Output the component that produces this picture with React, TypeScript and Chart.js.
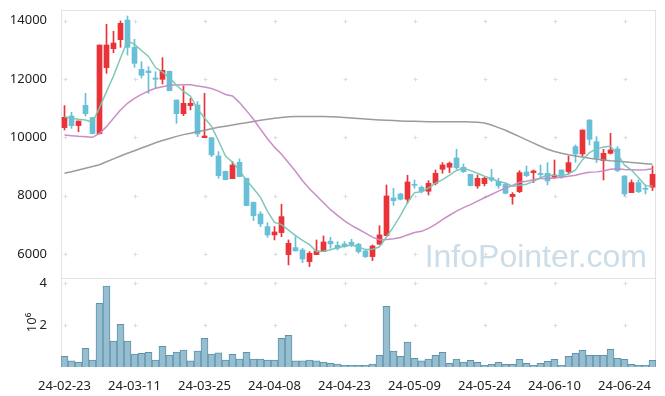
import React, { useEffect, useRef } from "react";
import { Chart, registerables } from "chart.js";

Chart.register(...registerables);

const DATES = [
  "24-02-23","24-02-26","24-02-27","24-02-28","24-02-29","24-03-04","24-03-05","24-03-06","24-03-07","24-03-08",
  "24-03-11","24-03-12","24-03-13","24-03-14","24-03-15","24-03-18","24-03-19","24-03-20","24-03-21","24-03-22",
  "24-03-25","24-03-26","24-03-27","24-03-28","24-03-29","24-04-01","24-04-02","24-04-03","24-04-04","24-04-05",
  "24-04-08","24-04-09","24-04-11","24-04-12","24-04-15","24-04-16","24-04-17","24-04-18","24-04-19","24-04-22",
  "24-04-23","24-04-24","24-04-25","24-04-26","24-04-29","24-04-30","24-05-02","24-05-03","24-05-07","24-05-08",
  "24-05-09","24-05-10","24-05-13","24-05-14","24-05-16","24-05-17","24-05-20","24-05-21","24-05-22","24-05-23",
  "24-05-24","24-05-27","24-05-28","24-05-29","24-05-30","24-05-31","24-06-03","24-06-04","24-06-05","24-06-07",
  "24-06-10","24-06-11","24-06-12","24-06-13","24-06-14","24-06-17","24-06-18","24-06-19","24-06-20","24-06-21",
  "24-06-24","24-06-25","24-06-26","24-06-27","24-06-28",
];

const OPEN = [
  10330,10729,10398,11094,10672,10124,12384,13035,13344,14017,
  13081,12327,12270,12030,11985,12259,11277,10809,11083,11106,
  9987,9987,9359,8834,8582,9142,8594,7772,7372,6939,
  6653,6733,5979,6219,6139,5740,5979,6082,6436,6299,
  6345,6402,6333,6105,5911,6333,6630,7920,8058,7875,
  8389,8286,8149,8423,8902,8971,9290,8971,8731,8332,
  8411,8617,8491,8389,7966,8137,8811,8788,8765,8765,
  8628,8879,8822,9679,9427,10592,9850,9199,9450,9599,
  8674,8103,8446,8252,8286,
];
const HIGH = [
  11083,10855,10558,11505,10680,13161,13869,13629,13983,14154,
  13355,12590,12419,12247,12727,12270,11277,11757,11334,11220,
  11505,9990,9507,8840,9165,9256,8600,7780,7452,7075,
  6939,7704,6482,6596,6197,6082,6482,6619,6573,6425,
  6425,6505,6368,6162,6311,6973,8366,8252,8080,8697,
  8537,8332,8514,8879,9131,9154,9587,9085,8731,8708,
  8628,8902,8594,8423,8103,8857,9016,8879,9051,9131,
  9222,8879,9359,9736,10249,10600,10021,9587,10135,9679,
  8680,8537,8537,8366,9016,
];
const LOW = [
  10250,10307,10192,10729,10110,10110,12190,12898,13081,12818,
  12396,12030,11505,11677,11825,11590,10478,10740,10935,10021,
  9987,9336,8594,8540,8580,8645,7650,7144,6939,6573,
  6482,6596,5626,6105,5705,5569,5979,6082,6197,6139,
  6230,6254,6025,5877,5774,6333,6630,7669,7852,7738,
  8252,8092,8023,8366,8765,8788,8902,8788,8330,8252,
  8332,8480,8252,8058,7704,8103,8651,8446,8651,8366,
  8594,8594,8742,9142,9359,9736,9131,8537,9427,8822,
  7989,8103,8103,8058,8172,
];
const CLOSE = [
  10683,10398,10558,10809,10124,13161,13161,13229,13903,13081,
  12533,12122,12213,11985,12293,11597,10809,11163,11163,10112,
  10044,9393,8685,8548,9051,8651,7658,7315,7030,6653,
  6756,7281,6368,6105,5831,6025,6105,6413,6345,6197,
  6254,6311,6082,5911,6276,6653,7989,7829,7875,8468,
  8354,8149,8423,8765,9051,9108,8959,8822,8343,8594,
  8594,8537,8343,8080,8046,8788,8685,8845,8720,8503,
  8708,8651,9131,9427,10249,9930,9279,9450,9564,8857,
  8058,8446,8137,8217,8731,
];

// volume in millions of shares
const VOLUME = [
  0.51,0.29,0.22,0.89,0.33,3.03,3.86,1.24,2.03,1.24,
  0.62,0.65,0.70,0.33,0.98,0.56,0.71,0.81,0.29,0.76,
  1.37,0.62,0.67,0.33,0.60,0.38,0.70,0.38,0.38,0.33,
  0.33,1.37,1.51,0.29,0.29,0.33,0.29,0.24,0.17,0.14,
  0.08,0.08,0.08,0.08,0.14,0.56,2.89,0.76,0.51,1.19,
  0.41,0.29,0.38,0.56,0.70,0.17,0.38,0.24,0.32,0.22,
  0.08,0.13,0.22,0.13,0.13,0.37,0.17,0.08,0.17,0.27,
  0.37,0.08,0.51,0.65,0.79,0.56,0.56,0.56,0.84,0.41,
  0.37,0.13,0.08,0.08,0.32,
];

const MA5 = [
  10706,10649,10615,10592,10514,11010,11563,12097,12716,13307,
  13181,12974,12770,12387,12229,12042,11779,11569,11405,10969,
  10658,10375,9879,9356,9144,8866,8519,8245,7941,7461,
  7082,7007,6818,6633,6468,6322,6087,6096,6144,6217,
  6263,6304,6238,6151,6167,6247,6582,6932,7324,7763,
  8103,8135,8254,8432,8548,8699,8861,8941,8857,8765,
  8662,8578,8482,8430,8320,8359,8388,8489,8617,8708,
  8692,8685,8743,8884,9233,9478,9603,9667,9694,9416,
  9042,8875,8612,8343,8318,
];
const MA20 = [
  10078,10055,10032,10021,9998,10135,10364,10649,10935,11163,
  11334,11471,11585,11677,11734,11779,11791,11802,11802,11755,
  11723,11673,11579,11466,11412,11187,10912,10616,10272,9951,
  9662,9420,9128,8834,8511,8232,7997,7759,7518,7323,
  7133,6979,6849,6717,6578,6478,6495,6521,6563,6654,
  6734,6777,6880,7013,7174,7328,7471,7591,7691,7811,
  7928,8039,8152,8261,8349,8456,8491,8541,8584,8585,
  8603,8628,8664,8697,8757,8798,8814,8845,8906,8919,
  8893,8888,8878,8885,8919,
];
const MA_LONG = [
  8765,8820,8880,8940,9000,9060,9160,9260,9360,9450,
  9540,9630,9720,9810,9890,9960,10030,10090,10140,10190,
  10240,10290,10340,10380,10420,10460,10500,10540,10580,10620,
  10650,10680,10700,10710,10710,10710,10710,10710,10705,10690,
  10675,10660,10640,10625,10610,10595,10585,10570,10560,10550,
  10545,10540,10535,10535,10535,10535,10535,10530,10525,10515,
  10490,10420,10330,10240,10130,10020,9910,9800,9690,9590,
  9510,9450,9400,9360,9320,9280,9250,9220,9195,9180,
  9160,9135,9115,9095,9075,
];

const PRICE_TICKS = [6000, 8000, 10000, 12000, 14000];
const VOLUME_TICKS = [2, 4];
const X_TICK_EVERY = 10;

const UP = "#ea3338";
const DOWN = "#67c0d8";
const FONT = "'Noto Sans', 'DejaVu Sans', sans-serif";

const decoPlugin = {
  id: "deco",
  beforeDatasetsDraw(chart: any) {
    const { ctx, scales } = chart;
    const x = scales.x, y = scales.y, yv = scales.yVol;
    ctx.save();
    ctx.font = "32px 'Liberation Sans', Arial, sans-serif";
    ctx.fillStyle = "rgba(150,188,210,0.5)";
    ctx.textAlign = "right";
    ctx.textBaseline = "alphabetic";
    ctx.fillText("InfoPointer.com", x.right - 9, y.bottom - 11);
    ctx.strokeStyle = "#dddddd";
    ctx.lineWidth = 1;
    const cross = (px: number, py: number) => {
      const cx = Math.round(px) + 0.5, cy = Math.round(py) + 0.5;
      ctx.beginPath();
      ctx.moveTo(cx - 2, cy); ctx.lineTo(cx + 2, cy);
      ctx.moveTo(cx, cy - 2); ctx.lineTo(cx, cy + 2);
      ctx.stroke();
    };
    for (let i = 0; i < DATES.length; i += X_TICK_EVERY) {
      const px = x.getPixelForValue(i);
      PRICE_TICKS.forEach((v) => cross(px, y.getPixelForValue(v)));
      VOLUME_TICKS.forEach((v) => cross(px, yv.getPixelForValue(v)));
    }
    ctx.strokeStyle = "#e2e2e2";
    ctx.strokeRect(Math.round(x.left) + 0.5, Math.round(y.top) + 0.5, Math.round(x.right - x.left) - 1, Math.round(y.bottom - y.top));
    ctx.strokeRect(Math.round(x.left) + 0.5, Math.round(yv.top) + 0.5, Math.round(x.right - x.left) - 1, Math.round(yv.bottom - yv.top) - 1);
    ctx.restore();
  },
};

const fitY = (s: any) => { s.width = 61; s.paddingTop = 0; s.paddingBottom = 0; };

export default function App() {
  const ref = useRef<HTMLCanvasElement | null>(null);
  useEffect(() => {
    document.body.style.margin = "0";
    const colors = OPEN.map((o, i) => (CLOSE[i] >= o ? UP : DOWN));
    const chart = new Chart(ref.current as HTMLCanvasElement, {
      data: {
        labels: DATES,
        datasets: [
          { type: "line", label: "MA5", data: MA5, borderColor: "rgba(120,196,180,0.95)", borderWidth: 1.5, pointRadius: 0, yAxisID: "y", order: 0 } as any,
          { type: "line", label: "MA20", data: MA20, borderColor: "rgba(200,135,195,0.95)", borderWidth: 1.5, pointRadius: 0, yAxisID: "y", order: 0 } as any,
          { type: "line", label: "MA long", data: MA_LONG, borderColor: "rgba(150,150,150,0.95)", borderWidth: 1.5, pointRadius: 0, yAxisID: "y", order: 0 } as any,
          { type: "bar", label: "body", data: OPEN.map((o, i) => [o, CLOSE[i]]), backgroundColor: colors, barThickness: 5, grouped: false, minBarLength: 1, yAxisID: "y", order: 2 } as any,
          { type: "bar", label: "wick", data: LOW.map((l, i) => [l, HIGH[i]]), backgroundColor: colors, barThickness: 1, grouped: false, yAxisID: "y", order: 3 } as any,
          { type: "bar", label: "volume", data: VOLUME, backgroundColor: "rgba(150,190,208,1)", borderColor: "#5e93ab", borderWidth: 1, categoryPercentage: 1, barPercentage: 1, grouped: false, yAxisID: "yVol", order: 4 } as any,
        ],
      },
      options: {
        animation: false,
        responsive: true,
        maintainAspectRatio: false,
        layout: { padding: { left: 0, right: 9, top: 10, bottom: 0 } },
        plugins: { legend: { display: false }, tooltip: { enabled: false } },
        scales: {
          x: {
            type: "category",
            offset: true,
            grid: { display: false },
            border: { display: false },
            ticks: {
              autoSkip: false,
              maxRotation: 0,
              padding: 3,
              color: "#222",
              font: { family: FONT, size: 13 },
              callback: (_v: any, i: number) => (i % X_TICK_EVERY === 0 ? DATES[i] : null),
            },
            afterFit: (s: any) => { s.height = 29; },
          },
          yVol: {
            type: "linear",
            position: "left",
            stack: "panels",
            stackWeight: 89,
            min: 0,
            max: 4.24,
            grid: { display: false },
            border: { display: false },
            afterBuildTicks: (s: any) => { s.ticks = VOLUME_TICKS.map((v) => ({ value: v })); },
            ticks: { color: "#222", padding: 6, font: { family: FONT, size: 13 }, callback: (v: any) => String(v) },
            title: { display: true, text: "10⁶", color: "#222", font: { family: FONT, size: 13 }, padding: { top: 24, bottom: 0 } },
            afterFit: fitY,
          },
          y: {
            type: "linear",
            position: "left",
            stack: "panels",
            stackWeight: 268,
            min: 5178,
            max: 14360,
            grid: { display: false },
            border: { display: false },
            afterBuildTicks: (s: any) => { s.ticks = PRICE_TICKS.map((v) => ({ value: v })); },
            ticks: { color: "#222", padding: 6, font: { family: FONT, size: 13 }, callback: (v: any) => String(v) },
            afterFit: fitY,
          },
        },
      } as any,
      plugins: [decoPlugin],
    });
    return () => chart.destroy();
  }, []);
  return (
    <div style={{ width: 665, height: 396, position: "relative" }}>
      <canvas ref={ref} />
    </div>
  );
}
